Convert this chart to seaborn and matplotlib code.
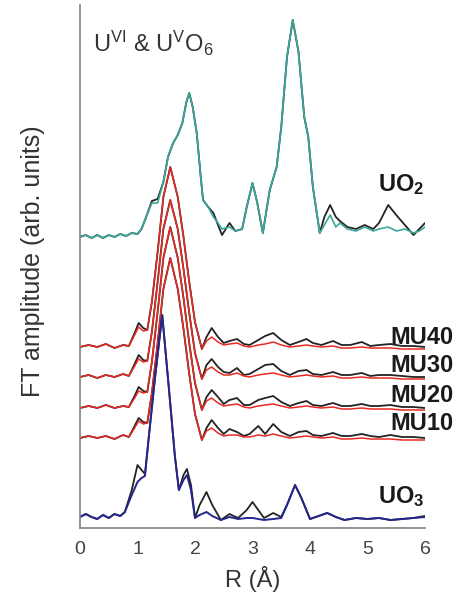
import numpy as np
import pandas as pd
import matplotlib
matplotlib.use("Agg")
import matplotlib.pyplot as plt
import seaborn as sns

# ============================================================
# data (amplitudes relative to each baseline)
# ============================================================
r_uo2 = [0, 0.1, 0.2, 0.3, 0.4, 0.5, 0.6, 0.7, 0.8, 0.9, 1.0, 1.07, 1.15, 1.25, 1.35,
         1.45, 1.53, 1.62, 1.7, 1.78, 1.85, 1.9, 1.96, 2.03, 2.1, 2.14, 2.23, 2.32, 2.4,
         2.47, 2.6, 2.7, 2.82, 2.9, 3.0, 3.08, 3.18, 3.3, 3.42, 3.5, 3.6, 3.7, 3.8, 3.9,
         3.97, 4.05, 4.17, 4.25, 4.35, 4.45, 4.52, 4.65, 4.8, 4.95, 5.1, 5.2, 5.36, 5.5,
         5.65, 5.8, 5.9, 6.0]
uo2_data = [0, 2, -1, 2, -1, 2, 0, 3, 1, 4, 3, 8, 20, 36, 38,
            55, 80, 94, 102, 114, 135, 144, 130, 104, 60, 37, 30, 24, 12,
            2, 14, 6, 8, 30, 54, 35, 4, 47, 70, 110, 180, 217, 185, 120,
            100, 50, 4, 20, 32, 20, 16, 10, 8, 12, 8, 14, 32, 22,
            12, 2, 8, 14]
uo2_fit = [0, 2, -1, 2, -1, 2, 0, 3, 1, 4, 3, 8, 20, 34, 34,
           55, 80, 94, 102, 114, 135, 144, 130, 104, 60, 37, 30, 20, 14,
           8, 10, 6, 8, 30, 54, 35, 4, 47, 70, 110, 180, 217, 185, 120,
           100, 50, 4, 12, 22, 10, 14, 8, 6, 10, 6, 8, 10, 6,
           8, 4, 6, 10]

r_mu = [0, 0.15, 0.3, 0.45, 0.6, 0.75, 0.85, 0.95, 1.02, 1.1, 1.17, 1.25, 1.35, 1.45,
        1.57, 1.7, 1.8, 1.9, 2.0, 2.12, 2.2, 2.29, 2.4, 2.5, 2.6, 2.73, 2.85, 2.95, 3.1,
        3.22, 3.36, 3.5, 3.65, 3.8, 3.94, 4.05, 4.2, 4.4, 4.55, 4.7, 4.9, 5.05, 5.2, 5.4,
        5.6, 5.8, 6.0]
mu40_data = [0, 2, 0, 3, -1, 2, 1, 14, 24, 19, 17, 45, 95, 150,
             180, 150, 110, 65, 25, -2, 10, 19, 10, 4, 6, 8, 3, 2, 7,
             11, 14, 7, 2, 5, 8, 4, 2, 6, 2, 2, 5, 1, 2, 3,
             1, 1, 0]
mu40_fit = [0, 2, 0, 3, -1, 2, 1, 12, 20, 16, 17, 45, 95, 150,
            180, 150, 110, 65, 25, -2, 6, 10, 5, 2, 3, 4, 1, 0, 2,
            3, 5, 2, 0, 1, 2, 1, 0, 1, -1, -1, 0, -1, -1, -1,
            -2, -2, -2]
mu30_data = [0, 2, -1, 2, 0, 3, 1, 13, 22, 17, 16, 45, 95, 148,
             177, 148, 108, 64, 24, -2, 12, 18, 10, 5, 4, 9, 2, 3, 8,
             12, 13, 6, 2, 6, 7, 3, 2, 5, 2, 2, 4, 1, 2, 2,
             1, 0, 0]
mu30_fit = [0, 2, -1, 2, 0, 3, 1, 11, 18, 15, 16, 45, 95, 148,
            177, 148, 108, 64, 24, -2, 7, 10, 5, 2, 2, 4, 1, 0, 2,
            3, 4, 2, 0, 1, 2, 1, 0, 1, -1, -1, 0, -1, -1, -1,
            -2, -2, -2]
mu20_data = [0, 2, 0, 3, 0, 2, 1, 12, 21, 17, 16, 46, 96, 150,
             181, 150, 110, 65, 25, -2, 11, 18, 11, 4, 8, 10, 3, 3, 8,
             10, 12, 6, 2, 5, 7, 3, 2, 5, 2, 2, 4, 2, 2, 3,
             1, 1, 0]
mu20_fit = [0, 2, 0, 3, 0, 2, 1, 10, 17, 15, 16, 46, 96, 150,
            181, 150, 110, 65, 25, -2, 7, 10, 5, 2, 3, 4, 1, 0, 2,
            3, 4, 2, 0, 1, 2, 1, 0, 1, -1, -1, 0, -1, -1, -1,
            -2, -2, -2]
mu10_data = [0, 2, 0, 2, -1, 3, 1, 12, 20, 16, 15, 45, 95, 149,
             180, 149, 109, 64, 24, -2, 10, 18, 10, 4, 9, 6, 2, 4, 12,
             4, 14, 6, 2, 6, 7, 3, 2, 5, 2, 2, 4, 2, 1, 3,
             1, 1, 0]
mu10_fit = [0, 2, 0, 2, -1, 3, 1, 10, 17, 14, 15, 45, 95, 149,
            180, 149, 109, 64, 24, -2, 7, 10, 5, 2, 3, 3, 1, 1, 3,
            2, 4, 2, 0, 1, 2, 1, 0, 1, -1, -1, 0, -1, -1, -1,
            -2, -2, -2]

r_uo3 = [0, 0.1, 0.2, 0.3, 0.4, 0.5, 0.6, 0.7, 0.78, 0.9, 1.0, 1.07, 1.13, 1.2, 1.3,
         1.43, 1.55, 1.65, 1.72, 1.8, 1.86, 1.93, 2.0, 2.08, 2.2, 2.3, 2.45, 2.6, 2.75,
         2.9, 3.0, 3.1, 3.2, 3.36, 3.5, 3.6, 3.74, 3.85, 4.0, 4.15, 4.3, 4.45, 4.6, 4.8,
         5.0, 5.2, 5.4, 5.6, 5.8, 6.0]
uo3_data = [3, 6, 3, 1, 5, 2, 6, 4, 8, 30, 55, 50, 46, 85, 140,
            205, 129, 64, 30, 45, 51, 35, 2, 15, 28, 15, 0, 6, 2,
            10, 18, 10, 2, 7, 3, 15, 35, 22, 1, 4, 7, 3, 0, 2,
            1, 2, 0, 1, 2, 4]
uo3_fit = [3, 6, 3, 1, 5, 2, 6, 4, 8, 25, 38, 42, 44, 85, 140,
           205, 129, 64, 30, 40, 45, 30, 2, 5, 8, 4, 0, 3, 1,
           2, 2, 1, 0, 1, 2, 15, 35, 22, 1, 4, 7, 3, 0, 2,
           1, 2, 0, 1, 2, 3]

# vertical stacking offsets of each spectrum
offsets = {"UO2": 291, "MU40": 181, "MU30": 151, "MU20": 120, "MU10": 90, "UO3": 8}

# ============================================================
# style
# ============================================================
sns.set_style("white")
plt.rcParams["font.family"] = ["Liberation Sans", "DejaVu Sans"]
plt.rcParams["mathtext.fontset"] = "custom"
plt.rcParams["mathtext.rm"] = "Liberation Sans"
plt.rcParams["mathtext.bf"] = "Liberation Sans:bold"
plt.rcParams["mathtext.it"] = "Liberation Sans:italic"

BLACK = "#232323"
TEAL = "#3aa99b"
RED = "#ea2a22"
BLUE = "#25258f"

fig = plt.figure(figsize=(4.74, 6.06), dpi=100)
ax = fig.add_axes([80 / 474, 78 / 606, 345 / 474, 523 / 606])


def draw(r, amp, key, color, lw=1.3):
    y = np.asarray(amp, dtype=float) + offsets[key]
    sns.lineplot(x=r, y=y, ax=ax, color=color, lw=lw, sort=False,
                 estimator=None, legend=False)


# data first, fits on top
draw(r_uo2, uo2_data, "UO2", BLACK)
draw(r_uo2, uo2_fit, "UO2", TEAL, lw=1.2)
mu_sets = [("MU10", mu10_data, mu10_fit), ("MU20", mu20_data, mu20_fit),
           ("MU30", mu30_data, mu30_fit), ("MU40", mu40_data, mu40_fit)]
for key, d, f in mu_sets:
    draw(r_mu, d, key, BLACK)
for key, d, f in mu_sets:
    draw(r_mu, f, key, RED, lw=1.1)
draw(r_uo3, uo3_data, "UO3", BLACK)
draw(r_uo3, uo3_fit, "UO3", BLUE, lw=1.4)

ax.set_xlim(0, 6)
ax.set_ylim(0, 523)

# labels
lab_kw = dict(fontsize=17, fontweight="bold", color="#1a1a1a", va="center",
              clip_on=False)
ax.text(5.18, 343, r"UO$_\mathbf{2}$", **lab_kw)
ax.text(5.39, 191, "MU40", **lab_kw)
ax.text(5.39, 163, "MU30", **lab_kw)
ax.text(5.39, 133, "MU20", **lab_kw)
ax.text(5.39, 105, "MU10", **lab_kw)
ax.text(5.18, 31, r"UO$_\mathbf{3}$", **lab_kw)
ax.text(0.22, 485, r"U$^{\mathrm{VI}}$ & U$^{\mathrm{V}}$O$_{6}$", fontsize=17,
        color="#333333", va="center")

ax.set_xlabel("R (Å)", fontsize=17, color="#333333", labelpad=6)
ax.set_ylabel("FT amplitude (arb. units)", fontsize=18, color="#333333")
ax.yaxis.set_label_coords(-0.10, 0.51)

# axes cosmetics
for s in ["top", "right"]:
    ax.spines[s].set_visible(False)
for s in ["left", "bottom"]:
    ax.spines[s].set_color("#808080")
    ax.spines[s].set_linewidth(1.2)
ax.set_yticks([])
ax.set_xticks(range(7))
ax.set_xticks(np.arange(0.5, 6, 1.0), minor=True)
ax.tick_params(axis="x", which="major", direction="in", length=4, width=1,
               color="#555555", labelsize=14, labelcolor="#444444", pad=9)
ax.tick_params(axis="x", which="minor", direction="out", length=3, width=1,
               color="#555555")

fig.savefig("out.png", dpi=100)
